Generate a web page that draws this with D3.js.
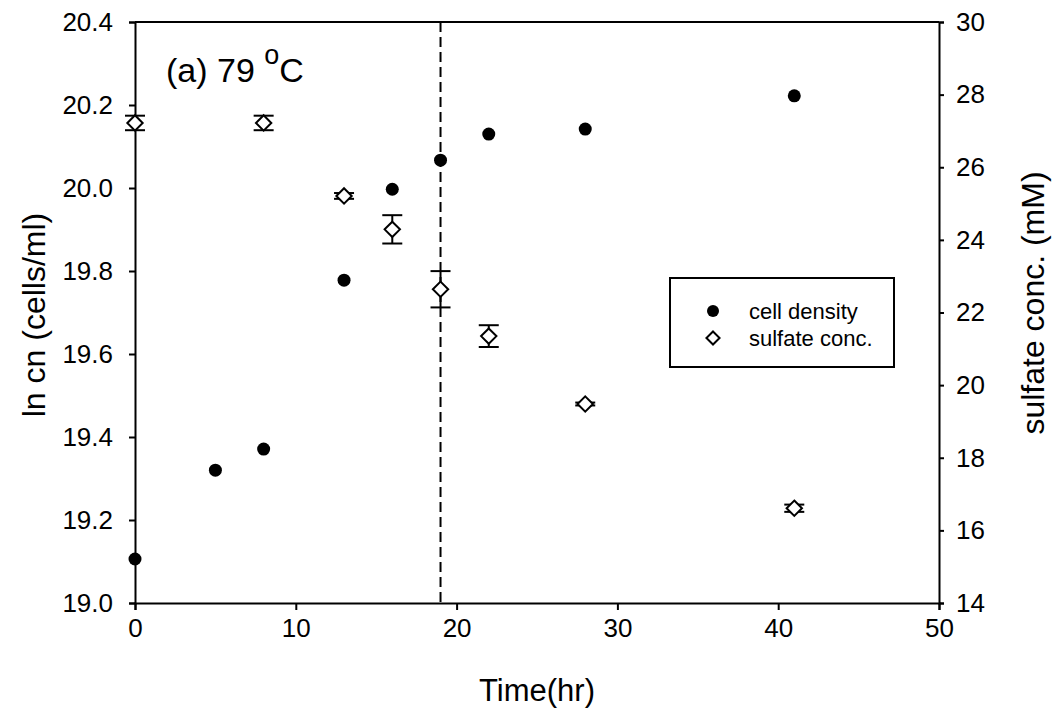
<!DOCTYPE html>
<html>
<head>
<meta charset="utf-8">
<script src="https://cdn.jsdelivr.net/npm/d3@7"></script>
<style>
  body { margin: 0; background: #fff; }
  text { font-family: Arial, "Liberation Sans", sans-serif; fill: #000; }
</style>
</head>
<body>
<div id="chart"></div>
<script>
// Plot constants
const WIDTH = 1054;
const HEIGHT = 713;
const margin = {top: 22, right: 115, bottom: 110, left: 135};

// Data
const cellTime = [0, 5, 8, 13, 16, 19, 22, 28, 41];
const cellDensity = [19.106, 19.32, 19.371, 19.778, 19.997, 20.067, 20.13, 20.142, 20.222];

const sulfateTime = [0, 8, 13, 16, 19, 22, 28, 41];
const sulfateConc = [27.22, 27.22, 25.21, 24.29, 22.64, 21.35, 19.48, 16.61];
const sulfateErr = [0.2, 0.2, 0.08, 0.39, 0.5, 0.3, 0.04, 0.1];

const xTicks = [0, 10, 20, 30, 40, 50];
const leftTicks = [19.0, 19.2, 19.4, 19.6, 19.8, 20.0, 20.2, 20.4];
const rightTicks = [14, 16, 18, 20, 22, 24, 26, 28, 30];
const lagTime = 19;

const legendLabels = ["cell density", "sulfate conc."];

const svg = d3
  .select("#chart")
  .append("svg")
  .attr("width", WIDTH)
  .attr("height", HEIGHT);

const x = d3.scaleLinear().domain([0, 50]).range([margin.left, WIDTH - margin.right]);
const yL = d3.scaleLinear().domain([19, 20.4]).range([HEIGHT - margin.bottom, margin.top]);
const yR = d3.scaleLinear().domain([14, 30]).range([HEIGHT - margin.bottom, margin.top]);

// Axes
svg
  .append("g")
  .attr("transform", `translate(0,${HEIGHT - margin.bottom})`)
  .call(d3.axisBottom(x).tickValues(xTicks).tickFormat(d3.format("d")).tickSizeOuter(0).tickSize(7).tickPadding(9));

svg
  .append("g")
  .attr("transform", `translate(${margin.left},0)`)
  .call(d3.axisLeft(yL).tickValues(leftTicks).tickFormat(d3.format(".1f")).tickSizeOuter(0).tickSize(6).tickPadding(16));

svg
  .append("g")
  .attr("transform", `translate(${WIDTH - margin.right},0)`)
  .call(d3.axisRight(yR).tickValues(rightTicks).tickFormat(d3.format("d")).tickSizeOuter(0).tickSize(5).tickPadding(12));

svg.selectAll(".domain, .tick line").attr("stroke", "#000").attr("stroke-width", 2);
svg.selectAll(".tick text").attr("font-size", "26px").attr("fill", "#000");

// top frame line
svg
  .append("line")
  .attr("x1", x(0))
  .attr("x2", x(50))
  .attr("y1", yL(20.4))
  .attr("y2", yL(20.4))
  .attr("stroke", "#000")
  .attr("stroke-width", 2);

// Axis titles
svg
  .append("text")
  .attr("x", (x(0) + x(50)) / 2)
  .attr("y", 701)
  .attr("text-anchor", "middle")
  .attr("font-size", "31px")
  .text("Time(hr)");

svg
  .append("text")
  .attr("transform", `translate(45,315) rotate(-90)`)
  .attr("text-anchor", "middle")
  .attr("font-size", "32px")
  .text("ln cn (cells/ml)");

svg
  .append("text")
  .attr("transform", `translate(1044,303) rotate(-90)`)
  .attr("text-anchor", "middle")
  .attr("font-size", "32px")
  .text("sulfate conc. (mM)");

// Panel title
const title = svg
  .append("text")
  .attr("x", 166)
  .attr("y", 82)
  .attr("font-size", "34px");
title.append("tspan").text("(a) 79 ");
title.append("tspan").attr("dy", -18).attr("font-size", "27px").text("o");
title.append("tspan").attr("dy", 18).text("C");

// Dashed line at end of lag
svg
  .append("line")
  .attr("x1", x(lagTime))
  .attr("x2", x(lagTime))
  .attr("y1", yL(20.4))
  .attr("y2", yL(19))
  .attr("stroke", "#000")
  .attr("stroke-width", 2)
  .attr("stroke-dasharray", "10,5");

// Sulfate error bars
const sulfate = sulfateTime.map((t, i) => ({t, v: sulfateConc[i], e: sulfateErr[i]}));

const errG = svg.append("g").attr("stroke", "#000").attr("stroke-width", 2);
sulfate.forEach((d) => {
  const cx = x(d.t);
  errG.append("line").attr("x1", cx).attr("x2", cx).attr("y1", yR(d.v + d.e)).attr("y2", yR(d.v - d.e));
  [d.v + d.e, d.v - d.e].forEach((v) => {
    errG.append("line").attr("x1", cx - 10).attr("x2", cx + 10).attr("y1", yR(v)).attr("y2", yR(v));
  });
});

// Sulfate diamonds
const diamond = d3.symbol().type(d3.symbolDiamond2).size(150);
svg
  .append("g")
  .selectAll("path")
  .data(sulfate)
  .join("path")
  .attr("d", diamond)
  .attr("transform", (d) => `translate(${x(d.t)},${yR(d.v)})`)
  .attr("fill", "#fff")
  .attr("stroke", "#000")
  .attr("stroke-width", 2);

// Cell density points
svg
  .append("g")
  .selectAll("circle")
  .data(cellTime.map((t, i) => ({t, v: cellDensity[i]})))
  .join("circle")
  .attr("cx", (d) => x(d.t))
  .attr("cy", (d) => yL(d.v))
  .attr("r", 6.5)
  .attr("fill", "#000");

// Legend
const legend = svg.append("g").attr("transform", "translate(670,278)");
legend
  .append("rect")
  .attr("width", 224)
  .attr("height", 89)
  .attr("fill", "#fff")
  .attr("stroke", "#000")
  .attr("stroke-width", 2);

legend.append("circle").attr("cx", 43).attr("cy", 33).attr("r", 6).attr("fill", "#000");
legend
  .append("path")
  .attr("d", d3.symbol().type(d3.symbolDiamond2).size(110))
  .attr("transform", "translate(43,60)")
  .attr("fill", "#fff")
  .attr("stroke", "#000")
  .attr("stroke-width", 2);

legend
  .selectAll("text")
  .data(legendLabels)
  .join("text")
  .attr("x", 79)
  .attr("y", (d, i) => 41 + i * 27)
  .attr("font-size", "22px")
  .text((d) => d);
</script>
</body>
</html>
